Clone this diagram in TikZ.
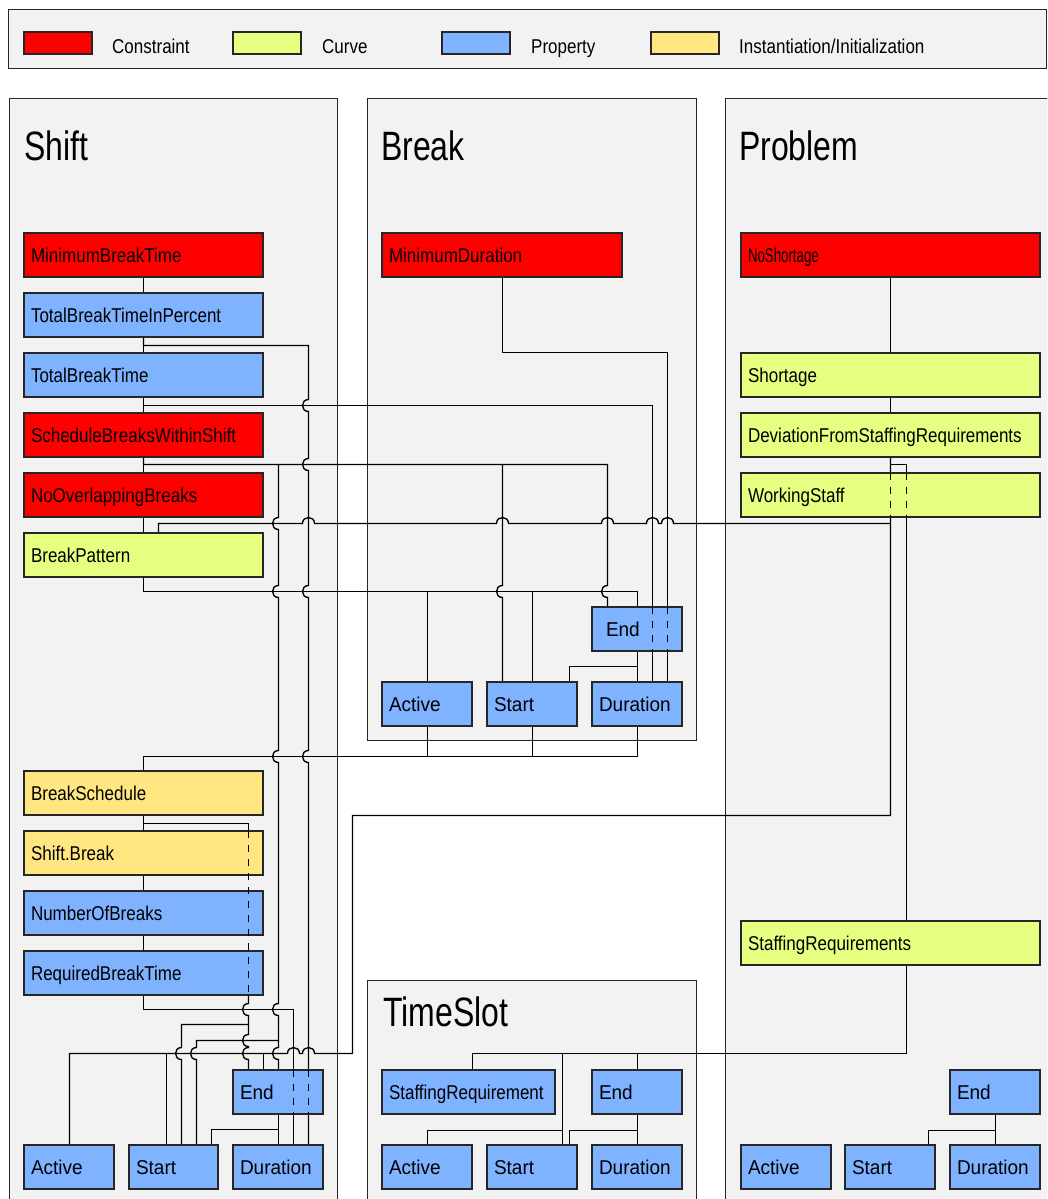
\documentclass[tikz,border=0pt]{standalone}
\usepackage{fontspec}
\usepackage{graphicx}
\setmainfont[FakeStretch=0.85]{Liberation Sans}
\newfontfamily\widefont[FakeStretch=0.95]{Liberation Sans}
\newfontfamily\ttlfont[FakeStretch=0.78]{Liberation Sans}

\definecolor{cRed}{HTML}{FF0000}
\definecolor{cCurve}{HTML}{E6FF80}
\definecolor{cProp}{HTML}{80B3FF}
\definecolor{cInst}{HTML}{FFE680}
\definecolor{cPanel}{HTML}{F2F2F2}
\definecolor{cLine}{HTML}{000000}
\definecolor{cBorder}{HTML}{262626}

\tikzset{
  panelbox/.style={fill=cPanel, draw=cBorder, line width=1.4pt},
  ubase/.style={draw=cBorder, line width=1.4pt, inner xsep=7pt, inner ysep=0pt,
    outer sep=0pt, text height=14.4pt, text depth=0pt,
    font=\fontsize{20}{24}\selectfont, anchor=north west},
  fillCon/.style={fill=cRed},
  fillCrv/.style={fill=cCurve},
  fillProp/.style={fill=cProp},
  fillInst/.style={fill=cInst},
  wire/.style={draw=cLine, line width=1.35pt},
  hiddenwire/.style={draw=cLine, line width=1.35pt, dash pattern=on 7pt off 7pt},
  paneltitle/.style={font=\ttlfont\fontsize{41}{48}\selectfont, anchor=base west, inner sep=0pt},
  legtext/.style={font=\fontsize{20}{24}\selectfont, anchor=base west, inner sep=0pt},
  swatch/.style={draw=cBorder, line width=1.3pt, inner sep=0pt, outer sep=0pt,
    minimum width=68pt, minimum height=22pt, anchor=north west},
  crisp/.style={shift={(0.5,0.5)}},
}

% box: name, x1, y1, x2, y2, style, text
\newcommand\ubox[7]{%
  \pgfmathsetmacro\ubw{#4-#2}%
  \pgfmathsetmacro\ubh{#5-#3}%
  \pgfmathsetmacro\ubt{#4-#2-14}%
  \node[ubase,#6,minimum width=\ubw pt,minimum height=\ubh pt] (#1) at (#2,#3) {\makebox[\ubt pt][l]{#7}};}

% line jumps: vertical line going down (bump to the left),
% horizontal line going right / left (hump upwards)
\newcommand\vb[2]{-- (#1,#2-6) .. controls (#1-8,#2-6) and (#1-8,#2+6) .. (#1,#2+6)}
\newcommand\hbr[2]{-- (#1-6,#2) .. controls (#1-6,#2-8) and (#1+6,#2-8) .. (#1+6,#2)}
\newcommand\hbl[2]{-- (#1+6,#2) .. controls (#1+6,#2-8) and (#1-6,#2-8) .. (#1-6,#2)}

\begin{document}
\begin{tikzpicture}[x=1pt,y=-1pt]
\useasboundingbox (0,0) rectangle (1047,1199);
\clip (0,0) rectangle (1047,1199);
\fill[white] (0,0) rectangle (1047,1199);

% legend
\begin{scope}[crisp]
\draw[panelbox] (8,9) rectangle (1046,68);
\end{scope}
\node[swatch,fill=cRed]   (lgCon)  at (24,32)  {};
\node[swatch,fill=cCurve] (lgCrv)  at (233,32) {};
\node[swatch,fill=cProp]  (lgProp) at (442,32) {};
\node[swatch,fill=cInst]  (lgInst) at (651,32) {};
\node[legtext] (lgConT)  at (112,53) {Constraint};
\node[legtext] (lgCrvT)  at (322,53) {Curve};
\node[legtext] (lgPropT) at (531,53) {Property};
\node[legtext] (lgInstT) at (739,53) {Instantiation/Initialization};

% panels
\begin{scope}[crisp]
\draw[panelbox] (9,98) rectangle (337,1220);
\draw[panelbox] (367,98) rectangle (696,740);
\draw[panelbox] (725,98) rectangle (1070,1220);
\draw[panelbox] (367,980) rectangle (696,1220);
\end{scope}
\node[paneltitle] (ttShift)    at (24,160)  {Shift};
\node[paneltitle] (ttBreak)    at (381,160) {Break};
\node[paneltitle] (ttProblem)  at (739,160) {Problem};
\node[paneltitle] (ttTimeSlot) at (383,1026) {TimeSlot};

% ---------- connectors ----------
\begin{scope}[crisp]
% Shift chain
\draw[wire] (143,277) -- (143,293);
\draw[wire] (143,337) -- (143,353);
\draw[wire] (143,397) -- (143,413);
\draw[wire] (143,457) -- (143,473);
\draw[wire] (143,517) -- (143,533);
\draw[wire] (143,815) -- (143,831);
\draw[wire] (143,875) -- (143,891);
\draw[wire] (143,935) -- (143,951);

% TotalBreakTimeInPercent -> Shift Duration
\draw[wire] (143,337) -- (143,345) -- (308,345) \vb{308}{405} \vb{308}{464} \vb{308}{591} \vb{308}{756} -- (308,1145);
% TotalBreakTime -> Break Duration
\draw[wire] (143,397) -- (143,405) -- (652,405) -- (652,682);
% MinimumDuration -> Break Duration
\draw[wire] (502,277) -- (502,352) -- (667,352) -- (667,682);
% ScheduleBreaksWithinShift
\draw[wire] (143,457) -- (143,464) -- (607,464) \vb{607}{591} -- (607,607);
\draw[wire] (278,464) \vb{278}{523} \vb{278}{591} \vb{278}{756} \vb{278}{1009} \vb{278}{1053} -- (278,1070);
\draw[wire] (278,1040) -- (196,1040) \vb{196}{1053} -- (196,1145);
\draw[wire] (502,464) \vb{502}{591} -- (502,682);
% BreakPattern top -> WorkingStaff
\draw[wire] (158,533) -- (158,523) \hbr{308}{523} \hbr{502}{523} \hbr{607}{523} \hbr{652}{523} \hbr{667}{523} -- (890,523);
% BreakPattern bottom -> Break Active/Start/End
\draw[wire] (143,577) -- (143,591) -- (637,591) -- (637,607);
\draw[wire] (427,591) -- (427,682);
\draw[wire] (532,591) -- (532,682);
% BreakSchedule top -> Break Active/Start/Duration
\draw[wire] (143,771) -- (143,756) -- (637,756) -- (637,726);
\draw[wire] (427,756) -- (427,726);
\draw[wire] (532,756) -- (532,726);
% BreakSchedule bottom -> Shift End/Start
\draw[wire] (143,815) -- (143,823) -- (248,823) -- (248,831);
\draw[wire] (248,995) \vb{248}{1009} \vb{248}{1040} \vb{248}{1053} -- (248,1070);
\draw[wire] (248,1024) -- (181,1024) \vb{181}{1053} -- (181,1145);
% RequiredBreakTime -> Shift Duration
\draw[wire] (143,995) -- (143,1009) -- (293,1009) -- (293,1145);

% Problem chain
\draw[wire] (890,277) -- (890,353);
\draw[wire] (890,397) -- (890,413);
\draw[wire] (890,457) -- (890,815) -- (352,815) -- (352,1053) \hbl{308}{1053} \hbl{293}{1053} -- (69,1053) -- (69,1145);
\draw[wire] (263,1053) -- (263,1070);
\draw[wire] (166,1053) -- (166,1145);
\draw[wire] (890,464) -- (906,464) -- (906,921);
% StaffingRequirements -> TimeSlot
\draw[wire] (906,965) -- (906,1053) -- (472,1053) -- (472,1070);
\draw[wire] (562,1053) -- (562,1145);
\draw[wire] (637,1053) -- (637,1070);
\draw[wire] (562,1130) -- (427,1130) -- (427,1145);
% End -> Duration / Start
\draw[wire] (637,1114) -- (637,1145);
\draw[wire] (637,1130) -- (569,1130) -- (569,1145);
\draw[wire] (995,1114) -- (995,1145);
\draw[wire] (995,1130) -- (928,1130) -- (928,1145);
\draw[wire] (637,651) -- (637,682);
\draw[wire] (637,666) -- (569,666) -- (569,682);
\draw[wire] (278,1114) -- (278,1145);
\draw[wire] (278,1129) -- (211,1129) -- (211,1145);
\end{scope}

% ---------- boxes ----------
% Shift
\ubox{sMBT}{24}{233}{263}{277}{fillCon}{MinimumBreakTime}
\ubox{sTBTP}{24}{293}{263}{337}{fillProp}{TotalBreakTimeInPercent}
\ubox{sTBT}{24}{353}{263}{397}{fillProp}{TotalBreakTime}
\ubox{sSBW}{24}{413}{263}{457}{fillCon}{ScheduleBreaksWithinShift}
\ubox{sNOB}{24}{473}{263}{517}{fillCon}{NoOverlappingBreaks}
\ubox{sBP}{24}{533}{263}{577}{fillCrv}{BreakPattern}
\ubox{sBS}{24}{771}{263}{815}{fillInst}{BreakSchedule}
\ubox{sSB}{24}{831}{263}{875}{fillInst}{Shift.Break}
\ubox{sNB}{24}{891}{263}{935}{fillProp}{NumberOfBreaks}
\ubox{sRBT}{24}{951}{263}{995}{fillProp}{RequiredBreakTime}
\ubox{sEnd}{233}{1070}{323}{1114}{fillProp}{\widefont End}
\ubox{sAct}{24}{1145}{114}{1189}{fillProp}{\widefont Active}
\ubox{sStart}{129}{1145}{218}{1189}{fillProp}{\widefont Start}
\ubox{sDur}{233}{1145}{323}{1189}{fillProp}{\widefont Duration}
% Break
\ubox{bMD}{382}{233}{622}{277}{fillCon}{MinimumDuration}
\ubox{bEnd}{592}{607}{682}{651}{fillProp}{\widefont\hspace*{7pt}End}
\ubox{bAct}{382}{682}{472}{726}{fillProp}{\widefont Active}
\ubox{bStart}{487}{682}{577}{726}{fillProp}{\widefont Start}
\ubox{bDur}{592}{682}{682}{726}{fillProp}{\widefont Duration}
% Problem
\ubox{pNS}{741}{233}{1040}{277}{fillCon}{\scalebox{0.78}[1]{NoShortage}}
\ubox{pSh}{741}{353}{1040}{397}{fillCrv}{Shortage}
\ubox{pDev}{741}{413}{1040}{457}{fillCrv}{DeviationFromStaffingRequirements}
\ubox{pWS}{741}{473}{1040}{517}{fillCrv}{WorkingStaff}
\ubox{pSR}{741}{921}{1040}{965}{fillCrv}{StaffingRequirements}
\ubox{pEnd}{950}{1070}{1040}{1114}{fillProp}{\widefont End}
\ubox{pAct}{741}{1145}{831}{1189}{fillProp}{\widefont Active}
\ubox{pStart}{845}{1145}{935}{1189}{fillProp}{\widefont Start}
\ubox{pDur}{950}{1145}{1040}{1189}{fillProp}{\widefont Duration}
% TimeSlot
\ubox{tSR}{382}{1070}{555}{1114}{fillProp}{StaffingRequirement}
\ubox{tEnd}{592}{1070}{682}{1114}{fillProp}{\widefont End}
\ubox{tAct}{382}{1145}{472}{1189}{fillProp}{\widefont Active}
\ubox{tStart}{487}{1145}{577}{1189}{fillProp}{\widefont Start}
\ubox{tDur}{592}{1145}{682}{1189}{fillProp}{\widefont Duration}

% ---------- connectors passing behind boxes ----------
\begin{scope}[crisp]
\draw[hiddenwire] (248,0 |- sSB.north) -- (248,0 |- sRBT.south);
\draw[hiddenwire] (293,0 |- sEnd.north) -- (293,0 |- sEnd.south);
\draw[hiddenwire] (308,0 |- sEnd.north) -- (308,0 |- sEnd.south);
\draw[hiddenwire] (652,0 |- bEnd.north) -- (652,0 |- bEnd.south);
\draw[hiddenwire] (667,0 |- bEnd.north) -- (667,0 |- bEnd.south);
\draw[hiddenwire] (890,0 |- pWS.north) -- (890,0 |- pWS.south);
\draw[hiddenwire] (906,0 |- pWS.north) -- (906,0 |- pWS.south);
\end{scope}
\end{tikzpicture}
\end{document}
